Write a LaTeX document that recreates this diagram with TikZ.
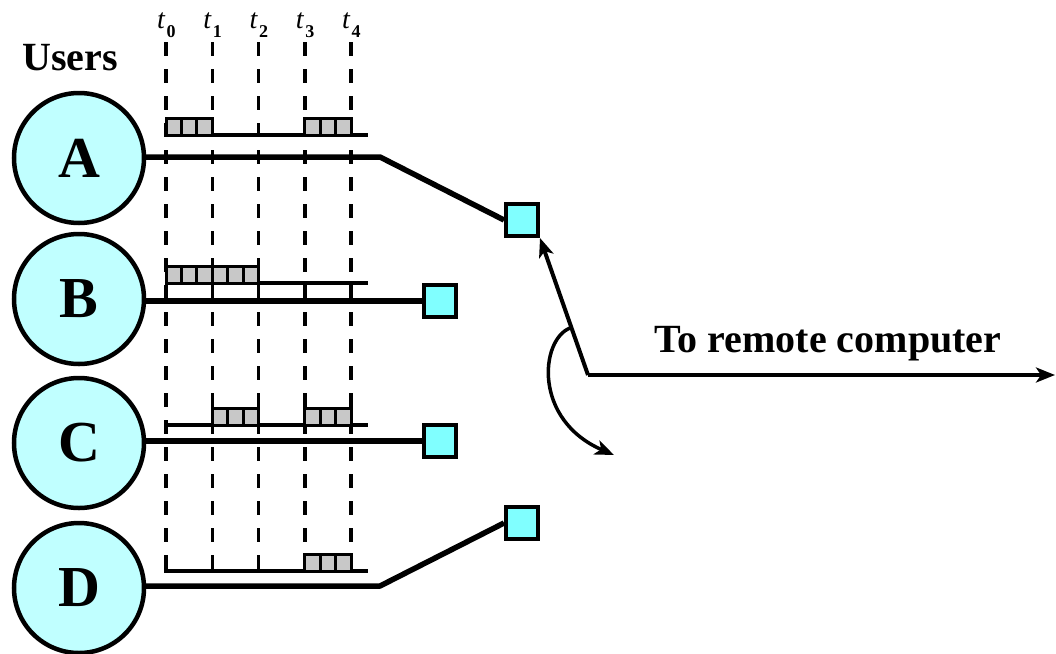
\documentclass[tikz,border=0pt]{standalone}
\usepackage{fontspec}
\setmainfont{Liberation Serif}
\usetikzlibrary{arrows.meta}
\definecolor{usercyan}{RGB}{192,255,255}
\definecolor{portcyan}{RGB}{128,255,255}
\definecolor{pktgray}{RGB}{200,200,200}
\tikzset{
  user/.style={circle, draw, line width=4.5pt, fill=usercyan, minimum size=130pt, inner sep=0pt,
    font=\fontsize{58}{60}\selectfont\bfseries},
  port/.style={rectangle, draw, line width=4pt, fill=portcyan, minimum size=32pt, inner sep=0pt},
  link/.style={line width=5.5pt, line join=round},
  tline/.style={line width=3.5pt},
  tdash/.style={line width=3.5pt, dash pattern=on 14pt off 13pt},
  cell/.style={line width=3pt, fill=pktgray},
  arr/.style={line width=4pt, -{Stealth[length=19pt,width=15pt,inset=5pt]}},
  lbl/.style={font=\fontsize{40}{44}\selectfont\bfseries},
  tlbl/.style={font=\fontsize{28}{30}\selectfont, inner sep=0pt, anchor=base west},
}
\newcommand\pktint[2]{% #1 = baseline y, #2 = interval index
  \foreach \j in {0,1,2}{
    \draw[cell] ({166+46.25*#2+15.4167*\j},#1) rectangle ++(15.4167,-17);
  }
}
\newcommand\tsub[1]{\textit{t}\kern1pt\raisebox{-9pt}{\fontsize{18}{18}\selectfont\bfseries #1}}
\begin{document}
\begin{tikzpicture}[x=1pt,y=-1pt]
\useasboundingbox (0,0) rectangle (1056,653);

% time labels and dashed time lines
\foreach \i in {0,...,4}{
  \node[tlbl] (t\i) at ({166+46.25*\i-9},28) {\tsub{\i}};
  \draw[tdash] ({166+46.25*\i},42) -- ({166+46.25*\i},571);
}
\node[lbl, anchor=base] (users) at (70,70) {Users};

% timelines
\foreach \y in {135,283,425}{
  \draw[tline] (166,\y) -- (368,\y);
}
\draw[tline] (166,557) -- (166,571) -- (368,571);

% packets
\pktint{135}{0} \pktint{135}{3}
\pktint{283}{0} \pktint{283}{1}
\pktint{425}{1} \pktint{425}{3}
\pktint{571}{3}

% ports
\node[port] (pA) at (522,220) {};
\node[port] (pB) at (440,301) {};
\node[port] (pC) at (440,441) {};
\node[port] (pD) at (522,523) {};

% links
\coordinate (bA) at (380,157);
\coordinate (bD) at (380,586);
\draw[link] (79,157) -- (bA) -- (pA.west);
\draw[link] (79,301) -- (pB.west);
\draw[link] (79,441) -- (pC.west);
\draw[link] (79,586) -- (bD) -- (pD.west);

% users
\node[user] (A) at (79,158) {A};
\node[user] (B) at (79,299) {B};
\node[user] (C) at (79,443) {C};
\node[user] (D) at (79,588) {D};

% remote connection
\coordinate (J) at (588,375);
\coordinate (R) at (1055,375);
\coordinate (S) at (570,328);
\coordinate (E) at (614,455);
\draw[arr] (J) -- (pA.south east);
\draw[arr] (J) -- (R);
\draw[arr, line width=3.5pt] (S) .. controls (540,340) and (533,420) .. (E);
\node[lbl, anchor=base] (remote) at (828,352) {To remote computer};
\end{tikzpicture}
\end{document}
